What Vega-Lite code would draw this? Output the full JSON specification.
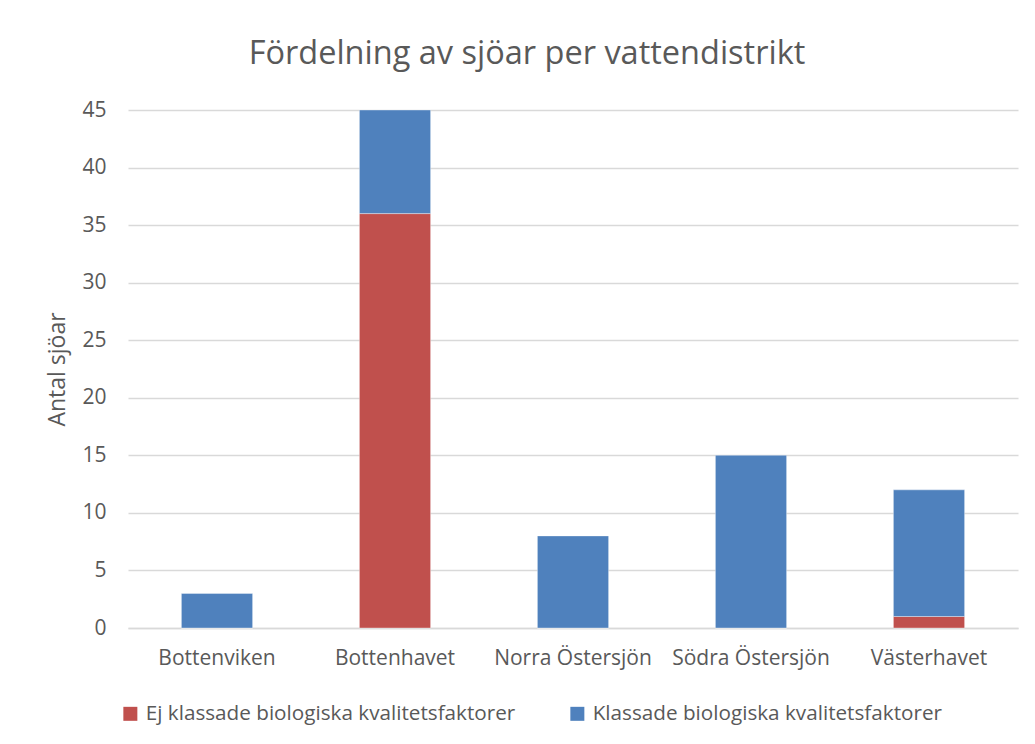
{
  "$schema": "https://vega.github.io/schema/vega-lite/v6.json",
  "autosize": "none",
  "width": 890,
  "height": 518,
  "padding": {"left": 128, "top": 110, "right": 17, "bottom": 116},
  "background": "white",
  "title": {
    "text": "Fördelning av sjöar per vattendistrikt",
    "font": "Open Sans",
    "fontSize": 32.5,
    "fontWeight": "normal",
    "color": "#595959",
    "anchor": "middle",
    "dx": -46,
    "offset": 29
  },
  "data": {
    "values": [
      {"distrikt": "Bottenviken", "typ": "Ej klassade biologiska kvalitetsfaktorer", "antal": 0},
      {"distrikt": "Bottenviken", "typ": "Klassade biologiska kvalitetsfaktorer", "antal": 3},
      {"distrikt": "Bottenhavet", "typ": "Ej klassade biologiska kvalitetsfaktorer", "antal": 36},
      {"distrikt": "Bottenhavet", "typ": "Klassade biologiska kvalitetsfaktorer", "antal": 9},
      {"distrikt": "Norra Östersjön", "typ": "Ej klassade biologiska kvalitetsfaktorer", "antal": 0},
      {"distrikt": "Norra Östersjön", "typ": "Klassade biologiska kvalitetsfaktorer", "antal": 8},
      {"distrikt": "Södra Östersjön", "typ": "Ej klassade biologiska kvalitetsfaktorer", "antal": 0},
      {"distrikt": "Södra Östersjön", "typ": "Klassade biologiska kvalitetsfaktorer", "antal": 15},
      {"distrikt": "Västerhavet", "typ": "Ej klassade biologiska kvalitetsfaktorer", "antal": 1},
      {"distrikt": "Västerhavet", "typ": "Klassade biologiska kvalitetsfaktorer", "antal": 11}
    ]
  },
  "mark": {"type": "bar", "stroke": "white", "strokeWidth": 0.6, "strokeOpacity": 0.6},
  "encoding": {
    "x": {
      "field": "distrikt",
      "type": "nominal",
      "sort": ["Bottenviken", "Bottenhavet", "Norra Östersjön", "Södra Östersjön", "Västerhavet"],
      "scale": {"paddingInner": 0.6, "paddingOuter": 0.3},
      "axis": {
        "title": null,
        "labelAngle": 0,
        "labelFont": "Open Sans",
        "labelFontSize": 21,
        "labelColor": "#595959",
        "labelPadding": 19,
        "ticks": false,
        "domainColor": "#D9D9D9",
        "domainWidth": 1.5
      }
    },
    "y": {
      "field": "antal",
      "type": "quantitative",
      "stack": "zero",
      "scale": {"domain": [0, 45]},
      "axis": {
        "title": "Antal sjöar",
        "titleFont": "Open Sans",
        "titleFontSize": 23,
        "titleFontWeight": "normal",
        "titleColor": "#595959",
        "titlePadding": 12,
        "values": [0, 5, 10, 15, 20, 25, 30, 35, 40, 45],
        "labelFont": "Open Sans",
        "labelFontSize": 21,
        "labelColor": "#595959",
        "labelPadding": 22,
        "ticks": false,
        "domain": false,
        "gridColor": "#D9D9D9",
        "gridWidth": 1.5
      }
    },
    "color": {
      "field": "typ",
      "type": "nominal",
      "scale": {
        "domain": ["Ej klassade biologiska kvalitetsfaktorer", "Klassade biologiska kvalitetsfaktorer"],
        "range": ["#C0504D", "#4F81BD"]
      },
      "legend": {
        "title": null,
        "orient": "none",
        "direction": "horizontal",
        "legendX": -8,
        "legendY": 593,
        "symbolType": "square",
        "symbolSize": 196,
        "symbolStrokeWidth": 0,
        "symbolOffset": 0,
        "labelFont": "Open Sans",
        "labelFontSize": 20.7,
        "labelColor": "#595959",
        "labelOffset": 5,
        "columnPadding": 51,
        "labelLimit": 500
      }
    },
    "order": {"field": "typ", "sort": "ascending"}
  },
  "config": {
    "view": {"stroke": null},
    "axis": {"labelFontWeight": "normal"}
  }
}
